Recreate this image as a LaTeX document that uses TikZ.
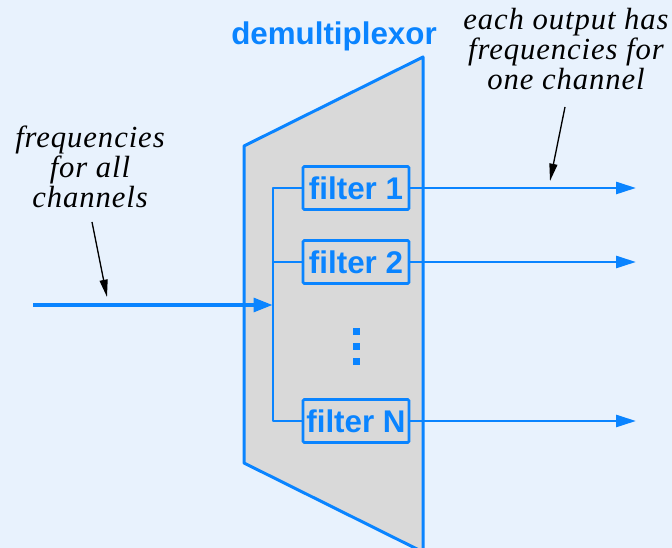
\documentclass[tikz,border=0pt]{standalone}
\usepackage{fontspec}
\setmainfont{Liberation Sans}
\newfontfamily\annfont{Liberation Serif}[LetterSpace=3]
\usetikzlibrary{arrows.meta}
\definecolor{bg}{RGB}{232,242,253}
\definecolor{dblue}{RGB}{10,132,255}
\definecolor{dgray}{RGB}{217,217,217}
\begin{document}
\begin{tikzpicture}[x=0.75pt,y=-0.75pt,
  filterbox/.style={draw=dblue, fill=dgray, line width=2pt, rounded corners=1pt,
    minimum width=79.5pt, minimum height=32.25pt, inner sep=0pt, text=dblue,
    font=\fontsize{23.5}{27}\selectfont\bfseries},
  ann/.style={font=\annfont\itshape\fontsize{23}{22.3}\selectfont, align=center, text=black, inner sep=0pt},
  wire/.style={draw=dblue, line width=2pt},
  outarrow/.style={wire, -{Triangle[length=15pt,width=9pt]}},
  annarrow/.style={draw=black, line width=1pt, -{Triangle[length=13pt,width=6pt]}}]
\clip (0,0) rectangle (672,548);
\fill[bg] (0,0) rectangle (672,548);
% demultiplexor body
\draw[fill=dgray, draw=dblue, line width=2.25pt, line join=round]
  (244,146) -- (423,57) -- (423,552) -- (244,463) -- cycle;
\node[text=dblue, font=\fontsize{23.5}{28}\selectfont\bfseries] (title) at (334,36) {demultiplexor};
% filters
\node[filterbox] (f1) at (356,188) {filter 1};
\node[filterbox] (f2) at (356,262) {filter 2};
\node[filterbox] (fN) at (356,421) {filter N};
% vertical dots
\fill[dblue] (352.5,328.5) rectangle (359.5,335.5);
\fill[dblue] (352.5,343.5) rectangle (359.5,350.5);
\fill[dblue] (352.5,358.5) rectangle (359.5,365.5);
% bus
\coordinate (bus1) at (273,188);
\coordinate (bus2) at (273,262);
\coordinate (busN) at (273,421);
\coordinate (busin) at (273,305);
\draw[wire, line join=round] (f1.west) -- (bus1) -- (busN) -- (fN.west);
\draw[wire] (bus2) -- (f2.west);
% input
\coordinate (in) at (33,305);
\draw[draw=dblue, line width=3.3pt, -{Triangle[length=14.5pt,width=10pt]}] (in) -- (busin);
% outputs
\coordinate (o1) at (636,188);
\coordinate (o2) at (636,262);
\coordinate (oN) at (636,421);
\draw[outarrow] (f1.east) -- (o1);
\draw[outarrow] (f2.east) -- (o2);
\draw[outarrow] (fN.east) -- (oN);
% annotations
\node[ann] (lt) at (90,167) {frequencies\\for all\\channels};
\node[ann] (rt) at (566,49) {each output has\\frequencies for\\one channel};
\coordinate (la1) at (92,222);
\coordinate (la2) at (107,297);
\coordinate (ra1) at (565,107);
\coordinate (ra2) at (550,181);
\draw[annarrow] (la1) -- (la2);
\draw[annarrow] (ra1) -- (ra2);
\end{tikzpicture}
\end{document}
